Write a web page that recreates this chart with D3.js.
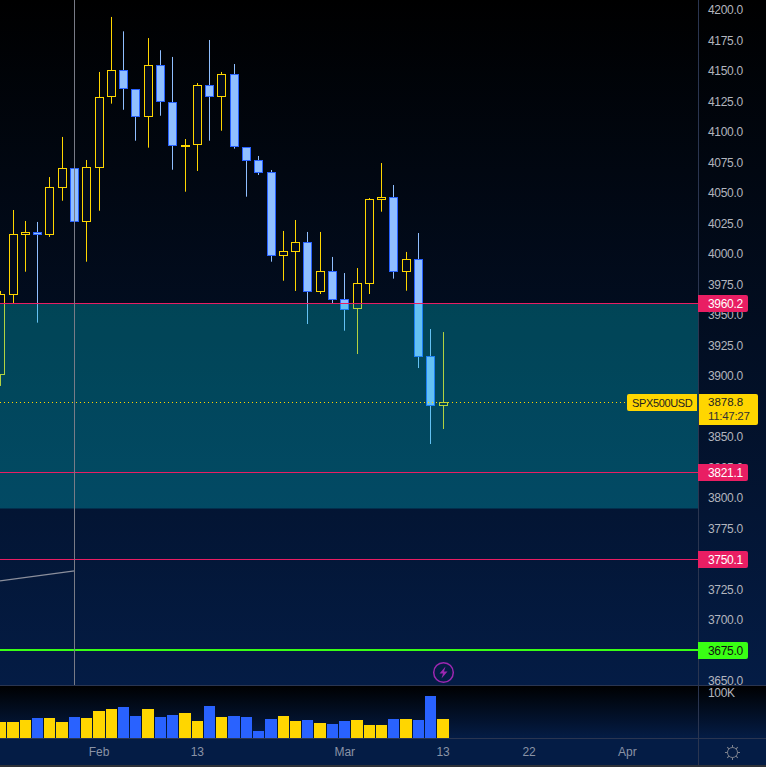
<!DOCTYPE html>
<html>
<head>
<meta charset="utf-8">
<script src="https://cdn.jsdelivr.net/npm/d3@7"></script>
<style>
    html, body { margin: 0; padding: 0; background: #000; overflow: hidden; }
    svg { display: block; font-family: "Liberation Sans", sans-serif; }
    .tick-label { font-size: 12px; letter-spacing: -0.3px; }
</style>
</head>
<body>
<script>
// daily candles, first one is 20 Jan
const opens = [3901.1, 3966.9, 4016.2, 4017.3, 4016.2, 4054.7, 4069.8, 4026.3, 4071.1, 4128.8, 4150.1, 4134.6, 4112.4, 4154.2, 4123.9, 4088.0, 4089.5, 4137.8, 4129.3, 4146.9, 4087.0, 4076.3, 4066.5, 3998.9, 4002.2, 4009.1, 3969.4, 3985.3, 3962.4, 3955.0, 3976.0, 4044.9, 4046.0, 3985.8, 3995.2, 3915.9, 3875.9];
const highs = [3969.6, 4036.0, 4027.0, 4026.2, 4063.0, 4095.9, 4069.8, 4077.0, 4149.2, 4194.3, 4182.5, 4134.6, 4177.0, 4167.0, 4161.5, 4094.2, 4140.1, 4175.4, 4149.2, 4155.7, 4087.0, 4080.3, 4068.8, 4018.8, 4027.8, 4018.0, 4018.0, 3997.5, 3984.3, 3988.4, 4045.8, 4074.5, 4056.5, 4001.6, 4017.1, 3938.4, 3935.9];
const lows = [3891.7, 3958.9, 3985.4, 3943.6, 4013.9, 4043.6, 4026.3, 3993.6, 4035.4, 4123.2, 4118.2, 4092.8, 4087.1, 4113.3, 4069.0, 4051.0, 4068.0, 4092.8, 4101.0, 4086.3, 4046.9, 4064.7, 3993.6, 3978.0, 3969.6, 3942.5, 3967.1, 3959.7, 3937.0, 3917.9, 3967.1, 4034.6, 3979.7, 3969.8, 3906.4, 3844.1, 3856.4];
const closes = [3966.7, 4015.7, 4017.3, 4016.2, 4054.2, 4069.8, 4026.3, 4070.6, 4128.0, 4150.1, 4135.4, 4112.4, 4154.2, 4124.7, 4088.6, 4088.8, 4137.8, 4129.3, 4146.9, 4087.8, 4076.8, 4067.0, 3998.9, 4001.7, 4009.1, 3969.4, 3985.3, 3962.9, 3954.7, 3975.5, 4044.4, 4046.0, 3985.8, 3995.2, 3916.1, 3875.9, 3878.0];
const volumes = [35.5, 35.5, 40, 44.5, 44.5, 35.5, 46.5, 44.5, 60, 64.5, 69, 49, 64.5, 46.5, 51, 55.5, 38, 71, 46.5, 49, 46.5, 15.5, 42, 49, 38, 40, 33, 31, 38, 40, 29, 29, 42, 42, 40, 93.5, 42];

// 3875, 3750 and 3675 sit fully behind the price badges
const priceTicks = d3.range(3650, 4201, 25).filter(d => ![3875, 3750, 3675].includes(d));
const timeTickDates = ["2023-02-01", "2023-02-13", "2023-03-01", "2023-03-13", "2023-03-22", "2023-04-03"];
const timeTickLabels = ["Feb", "13", "Mar", "13", "22", "Apr"];

const zoneTop = 3960.2;
const zoneBottom = 3791.2;
const lastPrice = 3878.8;
const countdown = "11:47:27";
const symbol = "SPX500USD";
const redLevels = [3960.2, 3821.1, 3750.1];
const greenLevel = 3675.0;
const trendLine = [{ date: "2023-01-20", price: 3731.8 }, { date: "2023-01-30", price: 3740.0 }];
const crosshairDate = "2023-01-30";
const eventDate = "2023-03-13";

const width = 766, height = 767;
const paneRight = 698, mainBottom = 685, volBottom = 738;
const blue = "#2962ff", lightBlue = "#90bfff", yellow = "#ffd600", pink = "#e91e63", green = "#39ff14";
const axisLine = "#2a3550", axisText = "#b2b5be";

// weekdays only, the future ones are just empty slots on the axis
const days = d3.utcDays(new Date(Date.UTC(2023, 0, 20)), new Date(Date.UTC(2023, 3, 11)))
    .filter(d => d.getUTCDay() !== 0 && d.getUTCDay() !== 6)
    .map(d => d3.utcFormat("%Y-%m-%d")(d));

const step = 12.2857;
const x = d3.scaleBand().domain(days).range([-5.36, -5.36 + days.length * step]);
const y = d3.scaleLinear().domain([3650, 4200]).range([680.7, 10]);
const yVol = d3.scaleLinear().domain([0, 100]).range([volBottom, 692.7]);

const center = d => Math.floor(x(d) + x.bandwidth() / 2) + 0.5;
const snap = v => Math.floor(y(v)) + 0.5;
const levelY = v => Math.floor(y(v) + 0.6) + 0.5;

const candles = opens.map((o, i) => ({
    date: days[i], prev: i > 0 ? days[i - 1] : null,
    open: o, high: highs[i], low: lows[i], close: closes[i], volume: volumes[i], up: closes[i] >= o
}));

const svg = d3.select("body").append("svg").attr("width", width).attr("height", height);
const defs = svg.append("defs");

function addGradient(id, stops) {
    let g = defs.append("linearGradient").attr("id", id).attr("x1", 0).attr("y1", 0).attr("x2", 0).attr("y2", 1);
    stops.forEach(s => g.append("stop").attr("offset", s[0]).attr("stop-color", s[1]));
}
addGradient("mainBg", [[0, "#000000"], [1, "#041c45"]]);
addGradient("volBg", [[0, "#000000"], [1, "#041c45"]]);

defs.append("clipPath").attr("id", "paneClip").append("rect")
    .attr("x", 0).attr("y", 0).attr("width", paneRight).attr("height", mainBottom);

// backgrounds
svg.append("rect").attr("width", width).attr("height", mainBottom).attr("fill", "url(#mainBg)");
svg.append("rect").attr("y", mainBottom).attr("width", width).attr("height", volBottom - mainBottom).attr("fill", "url(#volBg)");
svg.append("rect").attr("y", volBottom).attr("width", width).attr("height", height - volBottom).attr("fill", "#041c45");

const pane = svg.append("g").attr("clip-path", "url(#paneClip)");

// candles
pane.selectAll(".wick").data(candles).enter().append("line")
    .attr("class", "wick")
    .attr("x1", d => center(d.date)).attr("x2", d => center(d.date))
    .attr("y1", d => y(d.high)).attr("y2", d => y(d.low))
    .attr("stroke", d => d.up ? yellow : lightBlue)
    .attr("stroke-width", 1);

pane.selectAll(".body").data(candles).enter().append("rect")
    .attr("class", "body")
    .attr("x", d => center(d.date) - 4)
    .attr("width", 8)
    .attr("y", d => snap(Math.max(d.open, d.close)))
    .attr("height", d => Math.max(snap(Math.min(d.open, d.close)) - snap(Math.max(d.open, d.close)), 1))
    .attr("fill", d => d.up ? "#020a1c" : lightBlue)
    .attr("stroke", d => d.up ? yellow : blue)
    .attr("stroke-width", 1);

// zone sits over the candles and tints them
pane.append("rect")
    .attr("x", 0).attr("width", paneRight)
    .attr("y", levelY(zoneTop)).attr("height", y(zoneBottom) - levelY(zoneTop))
    .attr("fill", "rgba(0,200,216,0.3)");

// last price dots
pane.append("line")
    .attr("x1", 0).attr("x2", paneRight)
    .attr("y1", levelY(lastPrice)).attr("y2", levelY(lastPrice))
    .attr("stroke", yellow).attr("stroke-dasharray", "1 3");

// levels
pane.selectAll(".level").data(redLevels).enter().append("line")
    .attr("class", "level")
    .attr("x1", 0).attr("x2", paneRight)
    .attr("y1", d => levelY(d)).attr("y2", d => levelY(d))
    .attr("stroke", pink).attr("stroke-width", 1);

pane.append("line")
    .attr("x1", 0).attr("x2", paneRight)
    .attr("y1", Math.floor(y(greenLevel))).attr("y2", Math.floor(y(greenLevel)))
    .attr("stroke", green).attr("stroke-width", 2);

// drawing tool line
pane.append("line")
    .attr("x1", 0).attr("x2", center(trendLine[1].date))
    .attr("y1", y(trendLine[0].price)).attr("y2", y(trendLine[1].price))
    .attr("stroke", "#8b8f9c").attr("stroke-width", 1.2);

// vertical line
svg.append("line")
    .attr("x1", center(crosshairDate)).attr("x2", center(crosshairDate))
    .attr("y1", 0).attr("y2", mainBottom)
    .attr("stroke", "#787b86");

// event icon
const eventIcon = svg.append("g").attr("transform", `translate(${center(eventDate)},672.5)`);
eventIcon.append("circle").attr("r", 9.8).attr("fill", "none").attr("stroke", "#9c27b0").attr("stroke-width", 1.5);
eventIcon.append("path").attr("d", "M2,-6 L-4,1 L-0.5,1 L-2,6 L4,-1 L0.5,-1 Z").attr("fill", "#9c27b0");

// volume
svg.selectAll(".vol").data(candles).enter().append("rect")
    .attr("class", "vol")
    .attr("x", d => d.prev ? center(d.prev) + 6.5 : 0)
    .attr("width", d => center(d.date) + 5.5 - (d.prev ? center(d.prev) + 6.5 : 0))
    .attr("y", d => Math.round(yVol(d.volume)))
    .attr("height", d => volBottom - Math.round(yVol(d.volume)))
    .attr("fill", d => d.up ? yellow : blue);

// price axis
const yAxis = d3.axisRight(y).tickValues(priceTicks).tickFormat(d3.format(".1f")).tickSize(0).tickPadding(0);
const yAxisG = svg.append("g").attr("transform", `translate(708,0)`).call(yAxis);
yAxisG.select(".domain").remove();
yAxisG.selectAll("text").attr("class", "tick-label").attr("fill", axisText)
    .style("font-family", "Liberation Sans");

svg.append("text").attr("class", "tick-label").attr("x", 708).attr("y", yVol(100))
    .attr("dy", "0.32em").attr("fill", axisText).text("100K");

// time axis
const xAxis = d3.axisBottom(x).tickValues(timeTickDates).tickFormat((d, i) => timeTickLabels[i]).tickSize(0).tickPadding(0);
const xAxisG = svg.append("g").attr("transform", `translate(0,747)`).call(xAxis);
xAxisG.select(".domain").remove();
xAxisG.selectAll("text").attr("fill", "#8a93a6").style("font-size", "12px")
    .style("font-family", "Liberation Sans");

// pane borders
[[0, width, mainBottom + 0.5, mainBottom + 0.5], [0, width, volBottom + 0.5, volBottom + 0.5],
 [paneRight + 0.5, paneRight + 0.5, 0, 766]].forEach(l => {
    svg.append("line").attr("x1", l[0]).attr("x2", l[1]).attr("y1", l[2]).attr("y2", l[3]).attr("stroke", axisLine);
});
svg.append("rect").attr("y", 765).attr("width", width).attr("height", 2).attr("fill", "#2e3138");

// settings icon
const gear = svg.append("g").attr("transform", "translate(732.5,752.5)").attr("stroke", "#7d828e").attr("fill", "none");
gear.append("circle").attr("r", 5);
d3.range(0, 360, 45).forEach(a => {
    gear.append("line").attr("y1", -5).attr("y2", -7.5).attr("transform", `rotate(${a})`);
});

// price badges
function badge(value, fill, textFill) {
    let cy = levelY(value);
    let g = svg.append("g");
    g.append("path")
        .attr("d", `M698,${cy - 8.5} H746 a2,2 0 0 1 2,2 V${cy + 6.5} a2,2 0 0 1 -2,2 H698 Z`)
        .attr("fill", fill);
    g.append("text").attr("class", "tick-label").attr("x", 708).attr("y", cy)
        .attr("dy", "0.36em").attr("fill", textFill).text(d3.format(".1f")(value));
}
redLevels.forEach(v => badge(v, pink, "#fff"));
badge(greenLevel, green, "#111");

// last price badge and symbol tag
const lastY = 394;
svg.append("path").attr("d", `M699,${lastY} H756 a2,2 0 0 1 2,2 V${lastY + 29} a2,2 0 0 1 -2,2 H699 Z`).attr("fill", yellow);
svg.append("path").attr("d", `M697,${lastY} H629 a2,2 0 0 0 -2,2 V${lastY + 15} a2,2 0 0 0 2,2 H697 Z`).attr("fill", yellow);
svg.append("text").attr("x", 708).attr("y", lastY + 8)
    .attr("dy", "0.36em").attr("fill", "#222").style("font-size", "11.5px").text(d3.format(".1f")(lastPrice));
svg.append("text").attr("x", 708).attr("y", lastY + 22)
    .attr("dy", "0.36em").attr("fill", "#333").style("font-size", "11.5px").style("letter-spacing", "-0.3px").text(countdown);
svg.append("text").attr("x", 632).attr("y", lastY + 9)
    .attr("dy", "0.36em").attr("fill", "#222").style("font-size", "11px").style("letter-spacing", "-0.35px").text(symbol);
</script>
</body>
</html>
